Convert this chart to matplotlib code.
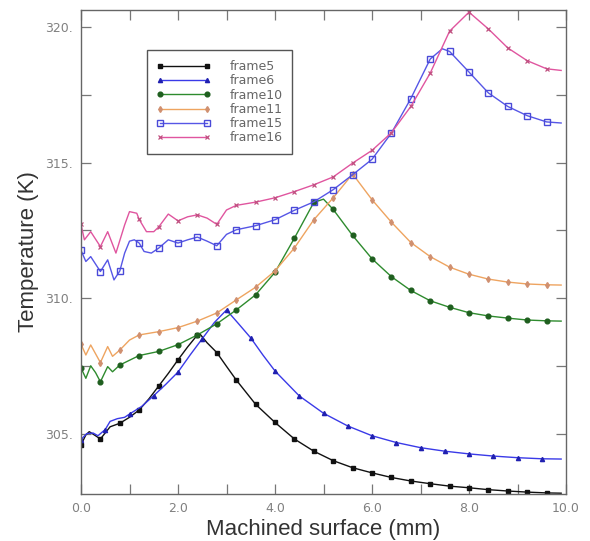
import numpy as np
import matplotlib
matplotlib.use("Agg")
import matplotlib.pyplot as plt
from matplotlib.ticker import MultipleLocator, FuncFormatter

# ---------------- data ----------------
labels = ["frame5", "frame6", "frame10", "frame11", "frame15", "frame16"]

frame5_x = [0.0, 0.1, 0.17, 0.3, 0.4, 0.6, 0.8, 1.0, 1.2, 1.4, 1.6, 1.8, 2.0, 2.2, 2.4, 2.45,
            2.6, 2.8, 3.0, 3.2, 3.6, 4.0, 4.4, 4.8, 5.2, 5.6, 6.0, 6.4, 6.8, 7.2, 7.6, 8.0,
            8.4, 8.8, 9.2, 9.6, 9.9]
frame5_y = [304.58, 304.95, 305.07, 304.92, 304.80, 305.25, 305.38, 305.60, 305.87, 306.28,
            306.75, 307.22, 307.72, 308.20, 308.64, 308.68, 308.35, 307.99, 307.48, 306.98,
            306.08, 305.41, 304.80, 304.35, 304.00, 303.74, 303.55, 303.38, 303.25, 303.15,
            303.06, 303.00, 302.93, 302.88, 302.84, 302.81, 302.80]

frame6_x = [0.0, 0.12, 0.25, 0.35, 0.5, 0.6, 0.75, 0.9, 1.0, 1.25, 1.5, 1.75, 2.0, 2.25, 2.5,
            2.75, 3.0, 3.25, 3.5, 3.75, 4.0, 4.5, 5.0, 5.5, 6.0, 6.5, 7.0, 7.5, 8.0, 8.5,
            9.0, 9.5, 9.9]
frame6_y = [304.78, 305.00, 305.02, 304.92, 305.15, 305.45, 305.55, 305.60, 305.72, 306.00,
            306.40, 306.82, 307.27, 307.90, 308.50, 309.10, 309.56, 309.05, 308.53, 307.90,
            307.31, 306.39, 305.75, 305.28, 304.92, 304.67, 304.48, 304.35, 304.25, 304.17,
            304.11, 304.07, 304.06]

frame10_x = [0.0, 0.1, 0.2, 0.3, 0.4, 0.55, 0.65, 0.8, 1.2, 1.6, 2.0, 2.4, 2.8, 3.2, 3.6,
             4.0, 4.4, 4.8, 5.0, 5.2, 5.6, 6.0, 6.4, 6.8, 7.2, 7.6, 8.0, 8.4, 8.8, 9.2,
             9.6, 9.9]
frame10_y = [307.42, 307.04, 307.50, 307.25, 306.91, 307.47, 307.28, 307.53, 307.88, 308.03,
             308.28, 308.64, 309.05, 309.56, 310.12, 310.95, 312.21, 313.53, 313.65, 313.27,
             312.31, 311.45, 310.79, 310.28, 309.90, 309.66, 309.46, 309.34, 309.26, 309.19,
             309.16, 309.15]

frame11_x = [0.0, 0.1, 0.2, 0.4, 0.55, 0.65, 0.8, 1.0, 1.2, 1.6, 2.0, 2.4, 2.8, 3.2, 3.6,
             4.0, 4.4, 4.8, 5.2, 5.6, 6.0, 6.4, 6.8, 7.2, 7.6, 8.0, 8.4, 8.8, 9.2, 9.6, 9.9]
frame11_y = [308.30, 307.90, 308.27, 307.62, 308.21, 307.85, 308.08, 308.45, 308.64, 308.76,
             308.91, 309.15, 309.45, 309.93, 310.40, 311.00, 311.85, 312.89, 313.70, 314.58,
             313.63, 312.80, 312.05, 311.53, 311.14, 310.88, 310.70, 310.59, 310.52, 310.49,
             310.48]

frame15_x = [0.0, 0.1, 0.2, 0.4, 0.55, 0.68, 0.8, 0.9, 1.0, 1.1, 1.2, 1.3, 1.45, 1.6, 1.8,
             2.0, 2.2, 2.4, 2.6, 2.8, 3.0, 3.2, 3.6, 4.0, 4.4, 4.8, 5.2, 5.6, 6.0, 6.4,
             6.8, 7.2, 7.45, 7.6, 8.0, 8.4, 8.8, 9.2, 9.6, 9.9]
frame15_y = [311.76, 311.35, 311.53, 310.98, 311.41, 310.67, 311.00, 311.66, 312.10, 312.15,
             312.03, 311.72, 311.66, 311.84, 312.15, 312.03, 312.15, 312.25, 312.10, 311.93,
             312.35, 312.52, 312.67, 312.89, 313.24, 313.55, 314.00, 314.55, 315.12, 316.09,
             317.36, 318.82, 319.20, 319.10, 318.34, 317.57, 317.07, 316.73, 316.50, 316.46]

frame16_x = [0.0, 0.07, 0.2, 0.4, 0.55, 0.72, 0.9, 1.0, 1.15, 1.2, 1.35, 1.5, 1.6, 1.8, 2.0,
             2.2, 2.4, 2.6, 2.8, 3.0, 3.2, 3.6, 4.0, 4.4, 4.8, 5.2, 5.6, 6.0, 6.4, 6.8,
             7.2, 7.6, 8.0, 8.4, 8.8, 9.2, 9.6, 9.9]
frame16_y = [312.72, 312.15, 312.45, 311.90, 312.45, 311.66, 312.70, 313.19, 313.13, 312.90,
             312.45, 312.45, 312.62, 313.10, 312.85, 313.00, 313.07, 312.95, 312.72, 313.25,
             313.42, 313.54, 313.70, 313.93, 314.18, 314.47, 314.98, 315.45, 316.10, 317.07,
             318.30, 319.85, 320.55, 319.93, 319.23, 318.76, 318.46, 318.40]

series_x = [frame5_x, frame6_x, frame10_x, frame11_x, frame15_x, frame16_x]
series_y = [frame5_y, frame6_y, frame10_y, frame11_y, frame15_y, frame16_y]
marker_steps = [0.4, 0.5, 0.4, 0.4, 0.4, 0.4]

x_ticks = [0, 2, 4, 6, 8, 10]
y_ticks = [305, 310, 315, 320]

# ---------------- styles ----------------
styles = [
    dict(color="#111111", marker="s", ms=3.2, mfc="#111111", mec="#111111"),
    dict(color="#3a3ae8", marker="^", ms=3.0, mfc="#2020b0", mec="#2020b0"),
    dict(color="#2e8b2e", marker="o", ms=3.4, mfc="#1f5f1f", mec="#1f5f1f"),
    dict(color="#eea460", marker="d", ms=3.0, mfc="#d09070", mec="#d09070"),
    dict(color="#5656e6", marker="s", ms=3.8, mfc="none", mec="#4a4ad8", mew=1.0),
    dict(color="#e0559f", marker="x", ms=2.8, mfc="#c05080", mec="#c05080", mew=0.9),
]

fig = plt.figure(figsize=(5.90, 5.41), dpi=100)
ax = fig.add_axes([81 / 590, 1 - 494 / 541, (566 - 81) / 590, (494 - 10) / 541])

for xs, ys, st, lab, step in zip(series_x, series_y, styles, labels, marker_steps):
    xa = np.asarray(xs)
    q = xa / step
    mask = np.isclose(q, np.round(q)) & (xa <= 9.65)
    ax.plot(xa, ys, lw=1.0, label=lab, markevery=list(mask), **st)

ax.set_xlim(0, 10)
ax.set_ylim(302.77, 320.63)
ax.set_xticks(x_ticks)
ax.set_yticks(y_ticks)
ax.xaxis.set_minor_locator(MultipleLocator(1))
ax.yaxis.set_minor_locator(MultipleLocator(2.5))
ax.xaxis.set_major_formatter(FuncFormatter(lambda v, p: f"{v:.1f}"))
ax.yaxis.set_major_formatter(FuncFormatter(lambda v, p: f"{v:.0f}."))

for sp in ax.spines.values():
    sp.set_color("#666666")
    sp.set_linewidth(1.0)
ax.tick_params(which="both", direction="in", top=True, right=True, length=7,
               width=0.9, color="#777777")
ax.tick_params(which="major", labelsize=9, labelcolor="#808080", pad=6)

ax.set_xlabel("Machined surface (mm)", fontsize=16, family="Liberation Sans",
              color="#333333", labelpad=3)
ax.set_ylabel("Temperature (K)", fontsize=16, family="Liberation Sans",
              color="#333333", labelpad=4)

leg = ax.legend(loc="upper left", bbox_to_anchor=(0.1355, 0.917), numpoints=2,
                fontsize=9, handlelength=4.3, handletextpad=1.5, labelspacing=0.1,
                borderpad=0.8, borderaxespad=0, fancybox=False, framealpha=1,
                edgecolor="#555555")
leg.get_frame().set_linewidth(1.0)
for t in leg.get_texts():
    t.set_color("#666666")

fig.savefig("out.png", dpi=100)
